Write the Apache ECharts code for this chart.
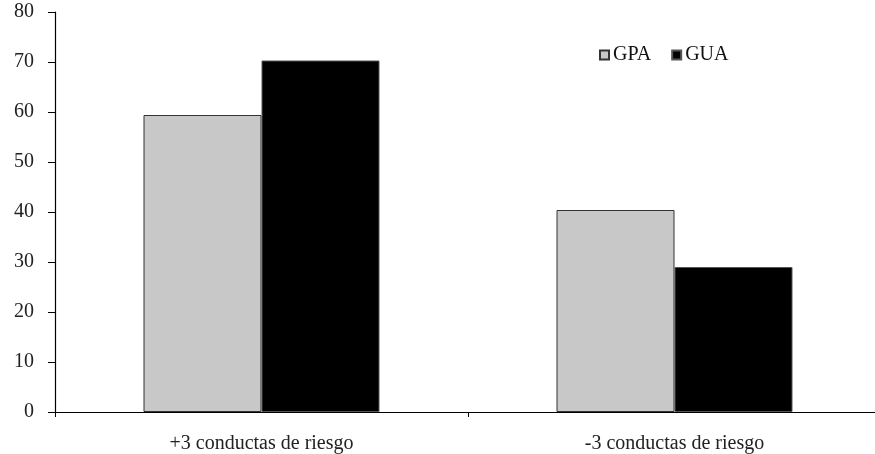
<!DOCTYPE html>
<html>
<head>
<meta charset="utf-8">
<script src="https://cdn.jsdelivr.net/npm/echarts@6/dist/echarts.min.js"></script>
<style>html,body{margin:0;padding:0;background:#fff}#c{width:875px;height:454px}</style>
</head>
<body>
<div id="c"></div>
<script>
const categories = ['+3 conductas de riesgo', '-3 conductas de riesgo'];
const gpaValues = [59.4, 40.4];
const guaValues = [70.3, 29.0];
const yTicks = [0, 10, 20, 30, 40, 50, 60, 70, 80];

const font = 'Liberation Serif';
const chart = echarts.init(document.getElementById('c'));
chart.setOption({
  animation: false,
  backgroundColor: '#fff',
  textStyle: { fontFamily: font },
  grid: { left: 55, width: 826, top: 12, bottom: 42, containLabel: false, outerBoundsMode: 'none' },
  legend: {
    data: ['GPA', 'GUA'],
    left: 594, top: 40,
    icon: 'rect', itemWidth: 9, itemHeight: 9, itemGap: 20,
    textStyle: { fontFamily: font, fontSize: 20, color: '#111', padding: [0, 0, 0, -1] }
  },
  xAxis: {
    type: 'category',
    data: categories,
    axisLine: { lineStyle: { color: '#000', width: 1.2 } },
    axisTick: { show: true, length: 5, lineStyle: { color: '#000' } },
    axisLabel: { fontFamily: font, fontSize: 20, color: '#222', margin: 22 }
  },
  yAxis: {
    type: 'value', min: yTicks[0], max: yTicks[yTicks.length - 1], interval: 10,
    axisLine: { show: true, lineStyle: { color: '#000', width: 1.2 } },
    axisTick: { show: true, length: 7, lineStyle: { color: '#000' } },
    splitLine: { show: false },
    axisLabel: { fontFamily: font, fontSize: 20, color: '#222', margin: 21, padding: [6, 0, 0, 0] }
  },
  series: [
    { name: 'GPA', type: 'bar', data: gpaValues, barWidth: 118, barGap: '0%',
      itemStyle: { color: '#c8c8c8', borderColor: '#333', borderWidth: 1 } },
    { name: 'GUA', type: 'bar', data: guaValues, barWidth: 118,
      itemStyle: { color: '#000', borderColor: '#555', borderWidth: 1 } }
  ]
});
</script>
</body>
</html>
